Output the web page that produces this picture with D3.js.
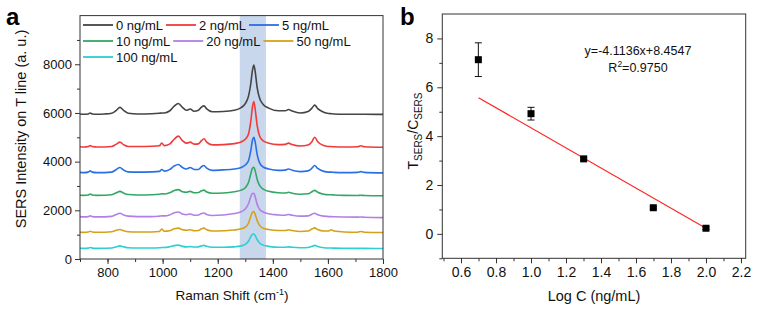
<!DOCTYPE html>
<html>
<head>
<meta charset="utf-8">
<script src="https://cdn.jsdelivr.net/npm/d3@7"></script>
<style>
  body { margin: 0; background: #fff; }
  svg { font-family: "Liberation Sans", Arial, sans-serif; }
</style>
</head>
<body>
<div id="chart"></div>
<script>
// Raman shift positions (cm-1) shared by all spectra
const shift = [700, 715, 730, 737, 745, 760, 790, 815, 832, 845, 858, 875, 910, 960, 988, 997, 1006, 1025, 1042, 1057,
  1072, 1086, 1100, 1114, 1130, 1141, 1150, 1160, 1180, 1220, 1260, 1285, 1300, 1312, 1320, 1326, 1331, 1336, 1343, 1352,
  1365, 1385, 1420, 1445, 1457, 1470, 1500, 1528, 1542, 1552, 1563, 1585, 1603, 1612, 1622, 1660, 1708, 1720, 1732, 1800];

const conc = ['0 ng/mL', '2 ng/mL', '5 ng/mL', '10 ng/mL', '20 ng/mL', '50 ng/mL', '100 ng/mL'];
const colors = ['#454545', '#f03b3b', '#2a6fe3', '#33a865', '#b27fe6', '#d6a11a', '#2ccfd2'];

const s0 = [5960, 5950, 5960, 6000, 5960, 5950, 5960, 5990, 6110, 6230, 6110, 5990, 5960, 5970, 5990, 6000, 6000, 6080, 6280, 6390,
  6230, 6110, 6160, 6070, 6110, 6240, 6290, 6170, 6050, 6060, 6110, 6220, 6380, 6700, 7200, 7750, 7970, 7700, 7050, 6600,
  6350, 6200, 6090, 6090, 6140, 6080, 6000, 6060, 6200, 6320, 6180, 6030, 5980, 5970, 5960, 5950, 5950, 5950, 5950, 5940];
const s2 = [4610, 4600, 4620, 4660, 4620, 4600, 4600, 4620, 4720, 4800, 4700, 4620, 4620, 4630, 4650, 4760, 4660, 4720, 4920, 5050,
  4860, 4760, 4800, 4720, 4730, 4860, 4940, 4800, 4690, 4700, 4740, 4810, 4920, 5150, 5650, 6250, 6470, 6150, 5500, 5050,
  4850, 4760, 4700, 4710, 4760, 4700, 4640, 4680, 4820, 5000, 4820, 4660, 4620, 4620, 4610, 4600, 4610, 4650, 4610, 4590];
const s5 = [3560, 3550, 3570, 3620, 3570, 3550, 3550, 3570, 3680, 3760, 3660, 3580, 3570, 3580, 3600, 3680, 3610, 3670, 3820, 3880,
  3760, 3700, 3760, 3680, 3680, 3790, 3840, 3730, 3640, 3660, 3700, 3760, 3860, 4050, 4450, 4880, 5000, 4800, 4300, 3950,
  3780, 3700, 3640, 3650, 3700, 3650, 3590, 3620, 3730, 3840, 3720, 3600, 3570, 3570, 3560, 3550, 3560, 3590, 3560, 3540];
const s10 = [2620, 2615, 2630, 2670, 2630, 2615, 2620, 2640, 2720, 2780, 2710, 2650, 2630, 2640, 2660, 2680, 2670, 2720, 2810, 2850,
  2760, 2740, 2780, 2720, 2730, 2800, 2830, 2750, 2700, 2710, 2760, 2830, 2930, 3150, 3500, 3730, 3770, 3620, 3280, 3020,
  2870, 2780, 2720, 2710, 2740, 2700, 2660, 2680, 2760, 2820, 2740, 2660, 2640, 2640, 2630, 2615, 2610, 2620, 2610, 2600];
const s20 = [1740, 1730, 1740, 1770, 1740, 1730, 1730, 1750, 1830, 1880, 1810, 1760, 1740, 1740, 1760, 1770, 1770, 1810, 1900, 1930,
  1850, 1820, 1850, 1800, 1810, 1870, 1890, 1830, 1790, 1810, 1870, 1940, 2050, 2280, 2560, 2690, 2700, 2560, 2250, 2040,
  1930, 1860, 1810, 1800, 1830, 1800, 1760, 1770, 1840, 1880, 1820, 1760, 1740, 1740, 1735, 1725, 1720, 1725, 1715, 1700];
const s50 = [1100, 1095, 1110, 1140, 1110, 1100, 1100, 1120, 1180, 1210, 1160, 1120, 1110, 1110, 1130, 1230, 1140, 1160, 1240, 1270,
  1200, 1180, 1200, 1160, 1170, 1240, 1270, 1200, 1150, 1160, 1190, 1240, 1310, 1480, 1750, 1920, 1950, 1830, 1580, 1380,
  1260, 1210, 1170, 1170, 1200, 1170, 1130, 1150, 1230, 1280, 1210, 1150, 1150, 1200, 1150, 1110, 1100, 1130, 1100, 1090];
const s100 = [440, 435, 445, 470, 445, 435, 440, 450, 500, 540, 500, 460, 450, 450, 460, 470, 470, 500, 550, 570,
  520, 500, 510, 490, 500, 540, 560, 520, 480, 480, 500, 540, 600, 740, 920, 1020, 1030, 960, 800, 660,
  570, 520, 480, 480, 500, 480, 460, 470, 520, 560, 510, 460, 450, 450, 445, 440, 435, 440, 435, 430];
const spectra = [s0, s2, s5, s10, s20, s50, s100];

// highlighted band around the 1330 cm-1 peak
const band = [1280, 1375];

// panel b
const logC = [0.699, 1.0, 1.301, 1.699, 2.0];
const ratio = [7.13, 4.92, 3.07, 1.07, 0.23];
const ratioErr = [0.69, 0.26, 0.06, 0.05, 0.05];
const fitRange = [0.7, 2.0];
const fitSlope = -4.1136, fitIntercept = 8.4547;

const W = 762, H = 311;
const svg = d3.select('#chart').append('svg').attr('width', W).attr('height', H);
const ink = '#333';

// ---------- panel a ----------
const xa = d3.scaleLinear().domain([700, 1800]).range([80, 383]);
const ya = d3.scaleLinear().domain([0, 10000]).range([259, 15.6]);

svg.append('rect')
  .attr('x', xa(band[0])).attr('y', ya(10000))
  .attr('width', xa(band[1]) - xa(band[0])).attr('height', ya(0) - ya(10000))
  .attr('fill', '#c9d7ec');

const line = d3.line().x((d, i) => xa(shift[i])).y(d => ya(d)).curve(d3.curveMonotoneX);
svg.append('g').selectAll('path')
  .data(spectra)
  .join('path')
  .attr('d', d => line(d))
  .attr('fill', 'none')
  .attr('stroke', (d, i) => colors[i])
  .attr('stroke-width', 1.6);

function frame(x, y) {
  svg.append('rect')
    .attr('x', x.range()[0]).attr('y', y.range()[1])
    .attr('width', x.range()[1] - x.range()[0]).attr('height', y.range()[0] - y.range()[1])
    .attr('fill', 'none').attr('stroke', ink).attr('stroke-width', 1);
}
frame(xa, ya);

function styleAxis(g, fs) {
  g.select('.domain').remove();
  g.selectAll('line').attr('stroke', ink);
  g.selectAll('text').attr('fill', '#111').style('font-size', fs + 'px').style('font-family', '"Liberation Sans", Arial, sans-serif');
}

// minor ticks
svg.append('g').attr('transform', `translate(0,${ya(0)})`)
  .call(d3.axisBottom(xa).tickValues(d3.range(700, 1801, 100)).tickSize(3).tickFormat(''))
  .call(g => styleAxis(g, 13));
svg.append('g').attr('transform', `translate(0,${ya(0)})`)
  .call(d3.axisBottom(xa).tickValues(d3.range(800, 1801, 200)).tickSize(5).tickPadding(4).tickFormat(d3.format('d')))
  .call(g => styleAxis(g, 13));
svg.append('g').attr('transform', `translate(${xa(700)},0)`)
  .call(d3.axisLeft(ya).tickValues(d3.range(1000, 10000, 2000)).tickSize(3).tickFormat(''))
  .call(g => styleAxis(g, 13));
svg.append('g').attr('transform', `translate(${xa(700)},0)`)
  .call(d3.axisLeft(ya).tickValues(d3.range(0, 8001, 2000)).tickSize(5).tickPadding(3).tickFormat(d3.format('d')))
  .call(g => styleAxis(g, 13));

// x label with superscript
const xl = svg.append('text').attr('x', 232).attr('y', 300).attr('text-anchor', 'middle')
  .style('font-size', '13.5px').attr('fill', '#111');
xl.append('tspan').text('Raman Shift (cm');
xl.append('tspan').attr('dy', -5).style('font-size', '9px').text('-1');
xl.append('tspan').attr('dy', 5).text(')');

svg.append('text')
  .attr('transform', 'translate(26,129) rotate(-90)')
  .attr('text-anchor', 'middle').style('font-size', '14.5px').attr('fill', '#111')
  .text('SERS Intensity on T line (a. u.)');

// legend
const legendRows = [[0, 1, 2], [3, 4, 5], [6]];
legendRows.forEach((row, r) => {
  let x = 83;
  const y = 25 + r * 16;
  row.forEach(i => {
    svg.append('line').attr('x1', x).attr('x2', x + 30).attr('y1', y).attr('y2', y)
      .attr('stroke', colors[i]).attr('stroke-width', 1.8);
    const t = svg.append('text').attr('x', x + 33).attr('y', y + 4.5)
      .style('font-size', '13px').attr('fill', '#111').text(conc[i]);
    x = x + 33 + t.node().getComputedTextLength() + 3;
  });
});

svg.append('text').attr('x', 6).attr('y', 25).style('font-size', '24px').style('font-weight', 'bold').text('a');

// ---------- panel b ----------
const xb = d3.scaleLinear().domain([0.493, 2.227]).range([442.3, 745.7]);
const yb = d3.scaleLinear().domain([-1, 9]).range([258.3, 14]);
frame(xb, yb);

svg.append('g').attr('transform', `translate(0,${yb(-1)})`)
  .call(d3.axisBottom(xb).tickValues(d3.range(5, 23, 1).map(d => d / 10)).tickSize(3).tickFormat(''))
  .call(g => styleAxis(g, 14));
svg.append('g').attr('transform', `translate(0,${yb(-1)})`)
  .call(d3.axisBottom(xb).tickValues(d3.range(6, 23, 2).map(d => d / 10)).tickSize(5).tickPadding(4).tickFormat(d3.format('.1f')))
  .call(g => styleAxis(g, 14));
svg.append('g').attr('transform', `translate(${xb.range()[0]},0)`)
  .call(d3.axisLeft(yb).tickValues([-1, 1, 3, 5, 7]).tickSize(3).tickFormat(''))
  .call(g => styleAxis(g, 14));
svg.append('g').attr('transform', `translate(${xb.range()[0]},0)`)
  .call(d3.axisLeft(yb).tickValues([0, 2, 4, 6, 8]).tickSize(5).tickPadding(4).tickFormat(d3.format('d')))
  .call(g => styleAxis(g, 14));

// fit line
svg.append('line')
  .attr('x1', xb(fitRange[0])).attr('y1', yb(fitSlope * fitRange[0] + fitIntercept))
  .attr('x2', xb(fitRange[1])).attr('y2', yb(fitSlope * fitRange[1] + fitIntercept))
  .attr('stroke', '#f22').attr('stroke-width', 1.1);

// error bars + markers
const pts = svg.append('g').selectAll('g').data(logC).join('g');
pts.append('line')
  .attr('x1', d => xb(d)).attr('x2', d => xb(d))
  .attr('y1', (d, i) => yb(ratio[i] + ratioErr[i])).attr('y2', (d, i) => yb(ratio[i] - ratioErr[i]))
  .attr('stroke', '#111').attr('stroke-width', 1);
[1, -1].forEach(s => {
  pts.append('line')
    .attr('x1', d => xb(d) - 3.5).attr('x2', d => xb(d) + 3.5)
    .attr('y1', (d, i) => yb(ratio[i] + s * ratioErr[i])).attr('y2', (d, i) => yb(ratio[i] + s * ratioErr[i]))
    .attr('stroke', '#111').attr('stroke-width', 1);
});
pts.append('rect')
  .attr('x', d => xb(d) - 3.5).attr('y', (d, i) => yb(ratio[i]) - 3.5)
  .attr('width', 7).attr('height', 7).attr('fill', '#000');

svg.append('text').attr('x', 638).attr('y', 55).attr('text-anchor', 'middle')
  .style('font-size', '12.5px').attr('fill', '#111').text('y=-4.1136x+8.4547');
const r2 = svg.append('text').attr('x', 638).attr('y', 72).attr('text-anchor', 'middle')
  .style('font-size', '12.5px').attr('fill', '#111');
r2.append('tspan').text('R');
r2.append('tspan').attr('dy', -5).style('font-size', '8.5px').text('2');
r2.append('tspan').attr('dy', 5).text('=0.9750');

svg.append('text').attr('x', 594).attr('y', 301).attr('text-anchor', 'middle')
  .style('font-size', '14.5px').attr('fill', '#111').text('Log C (ng/mL)');

const yl = svg.append('text').attr('transform', 'translate(418,131) rotate(-90)')
  .attr('text-anchor', 'middle').style('font-size', '14px').attr('fill', '#111');
yl.append('tspan').text('T');
yl.append('tspan').attr('dy', 4).style('font-size', '10px').text('SERS');
yl.append('tspan').attr('dy', -4).text('/C');
yl.append('tspan').attr('dy', 4).style('font-size', '10px').text('SERS');

svg.append('text').attr('x', 400).attr('y', 25).style('font-size', '24px').style('font-weight', 'bold').text('b');
</script>
</body>
</html>
